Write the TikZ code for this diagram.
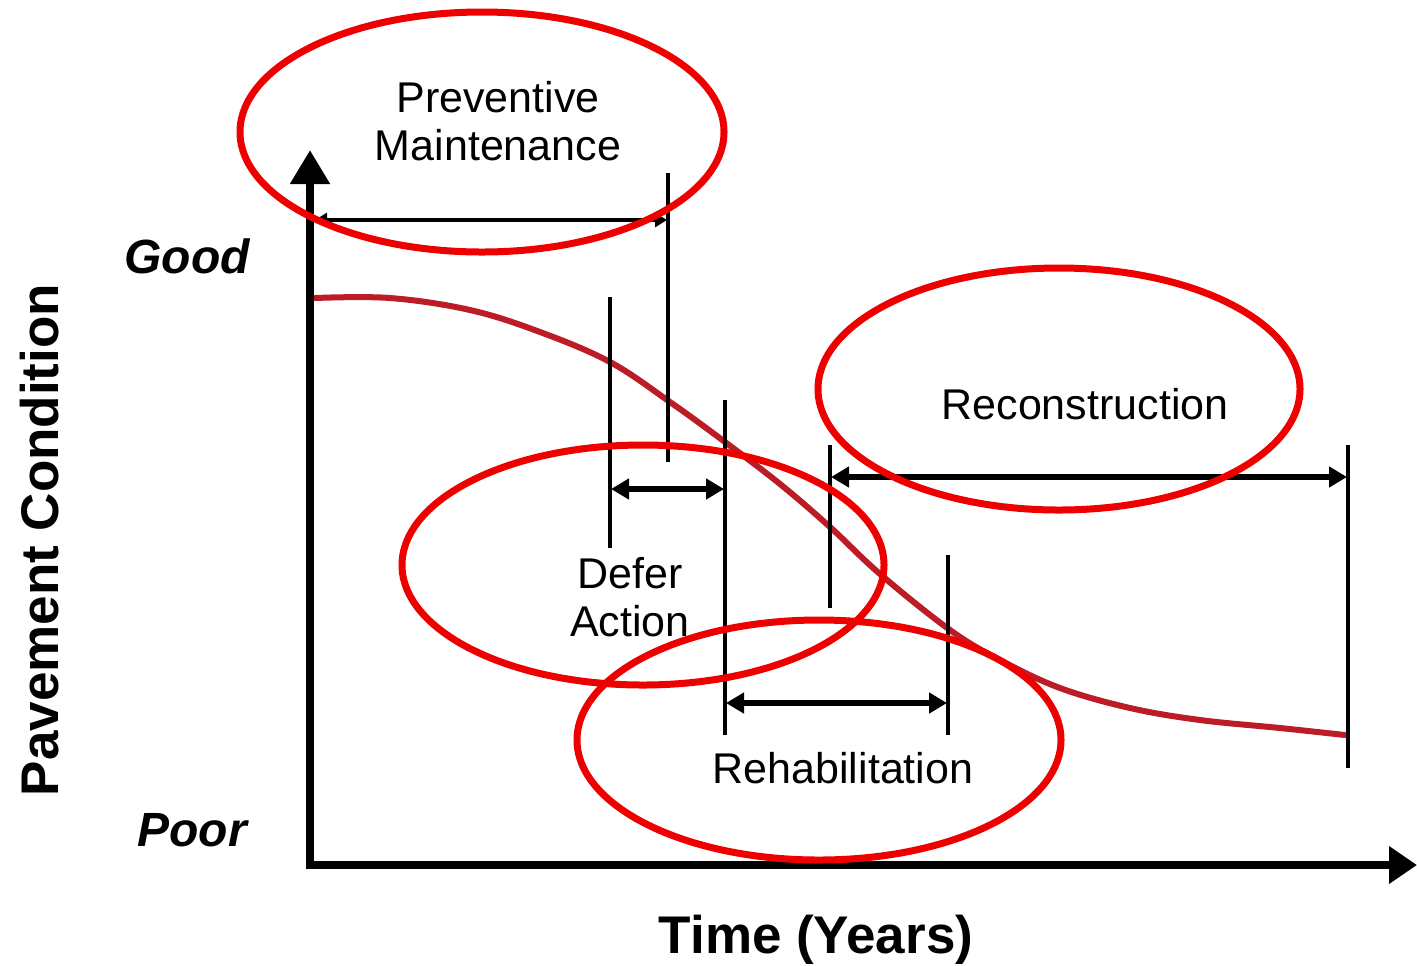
\documentclass[tikz,border=0pt]{standalone}
\usepackage{fontspec}
\setmainfont{Liberation Sans}
\usetikzlibrary{arrows.meta}
\definecolor{ringred}{RGB}{238,0,0}
\definecolor{curvered}{RGB}{188,28,38}
\begin{document}
\begin{tikzpicture}[x=0.5pt,y=-0.5pt,
  axis/.style={line width=4pt},
  tick/.style={line width=2pt},
  span/.style={line width=3.4pt,{Triangle[width=10pt,length=9pt]}-{Triangle[width=10pt,length=9pt]}},
  thinspan/.style={line width=2pt,{Triangle[width=7pt,length=6pt]}-{Triangle[width=7pt,length=6pt]}},
  ring/.style={draw=ringred,line width=3.5pt},
  lbl/.style={font=\fontsize{21.5}{24}\selectfont,align=center,inner sep=0pt},
  axlbl/.style={font=\fontsize{26.5}{30}\selectfont\bfseries,inner sep=0pt},
  level/.style={font=\fontsize{24}{28}\selectfont\bfseries\itshape,inner sep=0pt}]
\useasboundingbox (0,0) rectangle (1417,965);
\fill[white] (0,0) rectangle (1417,965);

% deterioration curve
\draw[curvered,line width=3pt,line cap=round]
  plot[smooth,tension=0.6] coordinates {(315,298) (390,298) (470,310) (540,332) (610,362)
  (670,402) (725,442) (780,484) (830,527) (880,574) (950,630) (1000,660)
  (1060,688) (1130,708) (1200,720) (1280,728) (1345,735)};

% treatment boundaries
\coordinate (pmT) at (668,173);  \coordinate (pmB) at (668,462);
\coordinate (dfT) at (610,297);  \coordinate (dfB) at (610,548);
\coordinate (rhT) at (725,400);  \coordinate (rhB) at (725,735);
\coordinate (rcT) at (830,445);  \coordinate (rcB) at (830,608);
\coordinate (reT) at (948,555);  \coordinate (reB) at (948,735);
\coordinate (ceT) at (1348,445); \coordinate (ceB) at (1348,768);
\foreach \a/\b in {pmT/pmB,dfT/dfB,rhT/rhB,rcT/rcB,reT/reB,ceT/ceB}
  \draw[tick] (\a) -- (\b);

% treatment windows
\coordinate (pmL) at (315,220);  \coordinate (pmR) at (667,220);
\coordinate (dfL) at (611,489);  \coordinate (dfR) at (724,489);
\coordinate (rcL) at (831,477);  \coordinate (rcR) at (1347,477);
\coordinate (reL) at (726,703);  \coordinate (reR) at (947,703);
\draw[thinspan] (pmL) -- (pmR);
\draw[span] (dfL) -- (dfR);
\draw[span] (rcL) -- (rcR);
\draw[span] (reL) -- (reR);

% axes
\coordinate (origin) at (310,865);
\coordinate (ytip) at (310,150);
\coordinate (xtip) at (1417,865);
\draw[axis,-{Triangle[width=19pt,length=17pt]}] ([yshift=-2pt]origin) -- (ytip);
\draw[axis,-{Triangle[width=18pt,length=14pt]}] ([xshift=-2pt]origin) -- (xtip);

% labels
\node[lbl] (pm) at (498,121) {Preventive\\Maintenance};
\node[lbl] (rc) at (1085,404) {Reconstruction};
\node[lbl] (df) at (630,597) {Defer\\Action};
\node[lbl] (re) at (843,768) {Rehabilitation};
\node[level] (good) at (187,256) {Good};
\node[level] (poor) at (192,830) {Poor};
\node[axlbl,rotate=90] (ylab) at (40,540) {Pavement Condition};
\node[axlbl] (xlab) at (816,940) {Time (Years)};

% highlight rings
\draw[ring] (482,132) ellipse [x radius=242, y radius=120];
\draw[ring] (1059,389) ellipse [x radius=241, y radius=121];
\draw[ring] (643,565) ellipse [x radius=241, y radius=120];
\draw[ring] (819,740) ellipse [x radius=242, y radius=120];
\end{tikzpicture}
\end{document}
